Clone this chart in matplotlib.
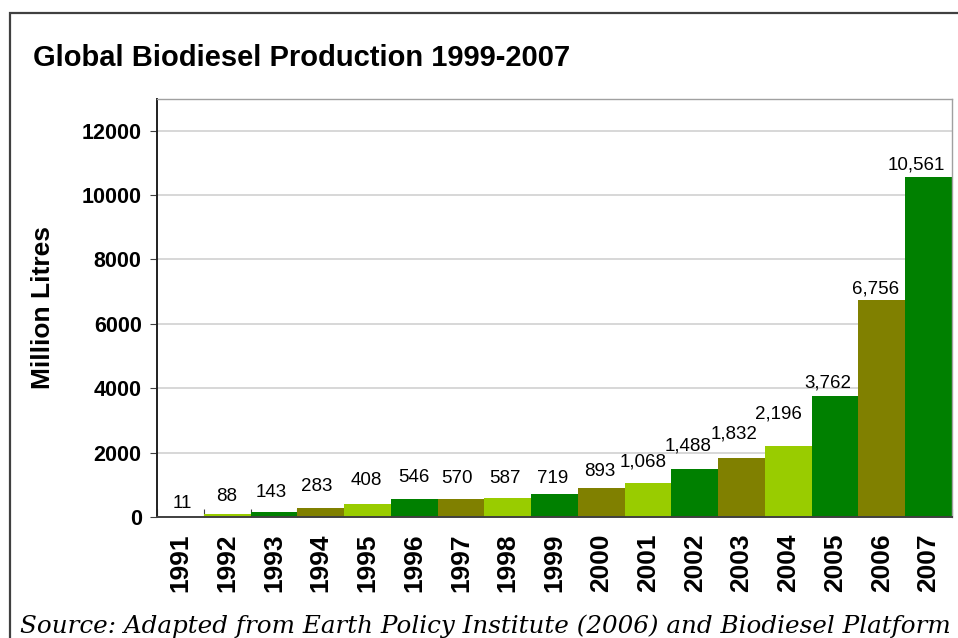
import matplotlib
matplotlib.use("Agg")
import matplotlib.pyplot as plt
from matplotlib.patches import Rectangle
import numpy as np

years = ["1991", "1992", "1993", "1994", "1995", "1996", "1997", "1998", "1999",
         "2000", "2001", "2002", "2003", "2004", "2005", "2006", "2007"]
production = [11, 88, 143, 283, 408, 546, 570, 587, 719,
              893, 1068, 1488, 1832, 2196, 3762, 6756, 10561]
bar_colors = ["#808000", "#99CC00", "#008000", "#808000", "#99CC00", "#008000",
              "#808000", "#99CC00", "#008000", "#808000", "#99CC00", "#008000",
              "#808000", "#99CC00", "#008000", "#808000", "#008000"]
y_ticks = [0, 2000, 4000, 6000, 8000, 10000, 12000]

# hand-placed data label nudges (dx, dy) in pixels
label_dx = [2, -1, -3, -4, -1, 0, -4, -3, -2, -2, -5, -7, -7, -10, -7, -6, -12]
label_dy = [5, 9, 11, 13, 15, 13, 12, 11, 7, 8, 12, 15, 16, 24, 4, 2, 4]

title = "Global Biodiesel Production 1999-2007"
y_label = "Million Litres"
source = "Source: Adapted from Earth Policy Institute (2006) and Biodiesel Platform"

plt.rcParams["font.family"] = ["Liberation Sans", "DejaVu Sans"]

W, H = 958, 638
fig = plt.figure(figsize=(W / 100, H / 100), dpi=100)
fig.patch.set_facecolor("white")

# outer frame of the chart object
fig.add_artist(Rectangle((9.5 / W, -0.05), 1.2, (H - 12.5) / H + 0.05,
                         transform=fig.transFigure, fill=False,
                         edgecolor="#404040", linewidth=1.6))

ax = fig.add_axes([157 / W, 1 - 517 / H, (952 - 157) / W, (517 - 98.5) / H])
x = np.arange(len(years))
ax.bar(x, production, width=1.0, color=bar_colors, edgecolor="none", zorder=2)

px = 72 / 100  # pixels -> points
for xi, v, dx, dy in zip(x, production, label_dx, label_dy):
    ax.annotate(f"{v:,}", (xi, v), xytext=(dx * px, dy * px),
                textcoords="offset points", ha="center", va="bottom",
                fontsize=13.5, color="black", zorder=3)

ax.set_xlim(-0.5, len(years) - 0.5)
ax.set_ylim(0, 13000)
ax.set_yticks(y_ticks)
ax.set_yticklabels([str(t) for t in y_ticks], fontsize=15.5, fontweight="bold")
ax.yaxis.grid(True, color="#d4d4d4", linewidth=1.3, zorder=0)
ax.set_axisbelow(True)

# tick marks at the bar boundaries, labels centred under each bar
ax.set_xticks(np.arange(-0.5, len(years) + 0.5, 1.0))
ax.set_xticklabels([])
ax.set_xticks(x, minor=True)
ax.set_xticklabels(years, minor=True, rotation=90, fontsize=19, fontweight="bold")
ax.tick_params(axis="x", which="major", direction="in", length=6, color="#404040")
ax.tick_params(axis="x", which="minor", length=0, pad=12)
ax.tick_params(axis="y", direction="out", length=5, color="#404040", pad=6)

for side in ("top", "right"):
    ax.spines[side].set_color("#a0a0a0")
    ax.spines[side].set_linewidth(1.0)
ax.spines["left"].set_color("#202020")
ax.spines["left"].set_linewidth(1.4)
ax.spines["bottom"].set_color("#404040")
ax.spines["bottom"].set_linewidth(1.4)

ax.set_ylabel(y_label, fontsize=19, fontweight="bold")
ax.yaxis.set_label_coords(-0.128, 0.5)

fig.text(33 / W, 1 - 58 / H, title, fontsize=21, fontweight="bold",
         ha="left", va="center")
fig.text(20 / W, 1 - 626 / H, source, fontsize=17.7, style="italic",
         family="DejaVu Serif", ha="left", va="center")

fig.savefig("out.png", dpi=100)
